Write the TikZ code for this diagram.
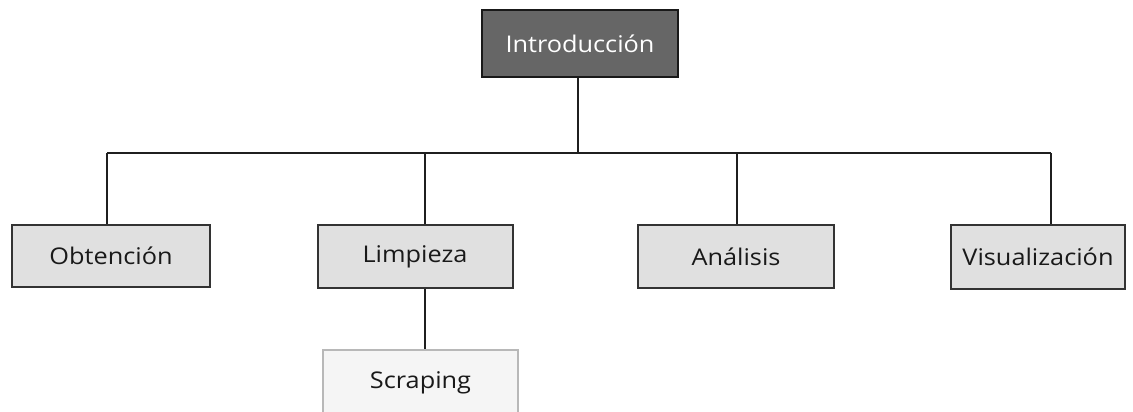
\documentclass[tikz,border=0pt]{standalone}
\usepackage{fontspec}
\setmainfont{Open Sans}[FakeStretch=1.1]
\begin{document}
\begin{tikzpicture}[x=1pt,y=-1pt,
  every node/.style={font=\fontsize{23}{26}\selectfont, inner sep=0pt},
  topbox/.style={draw=black!90, line width=2.2pt, fill=black!60, text=white},
  childbox/.style={draw=black!80, line width=2pt, fill=black!12, text=black!90},
  leafbox/.style={draw=black!28, line width=2pt, fill=black!4, text=black!90},
  link/.style={draw=black!88, line width=1.6pt}]
  \useasboundingbox (0,0) rectangle (1133,412);
  \clip (0,0) rectangle (1133,412);

  % root
  \node[topbox, minimum width=196pt, minimum height=67pt] (intro) at (580,43.5) {Introducción};

  % first level
  \node[childbox, minimum width=198pt, minimum height=62pt] (obt) at (111,256) {Obtención};
  \node[childbox, minimum width=195pt, minimum height=63pt] (limp) at (415,256.5) {Limpieza};
  \node[childbox, minimum width=196pt, minimum height=63pt] (anal) at (736,256.5) {Análisis};
  \node[childbox, minimum width=174pt, minimum height=64pt] (visu) at (1038,257) {Visualización};

  % second level
  \node[leafbox, minimum width=195pt, minimum height=66pt] (scr) at (420.5,383) {Scraping};

  % bus
  \coordinate (d1) at (107,153);
  \coordinate (d2) at (425,153);
  \coordinate (d3) at (737,153);
  \coordinate (d4) at (1051,153);
  \coordinate (hub) at (578,153);

  \draw[link] (intro.south -| hub) -- (hub);
  \draw[link] (d1) -- (d4);
  \draw[link] (d1) -- (d1 |- obt.north);
  \draw[link] (d2) -- (d2 |- limp.north);
  \draw[link] (d3) -- (d3 |- anal.north);
  \draw[link] (d4) -- (d4 |- visu.north);
  \draw[link] (limp.south -| d2) -- (d2 |- scr.north);
\end{tikzpicture}
\end{document}
